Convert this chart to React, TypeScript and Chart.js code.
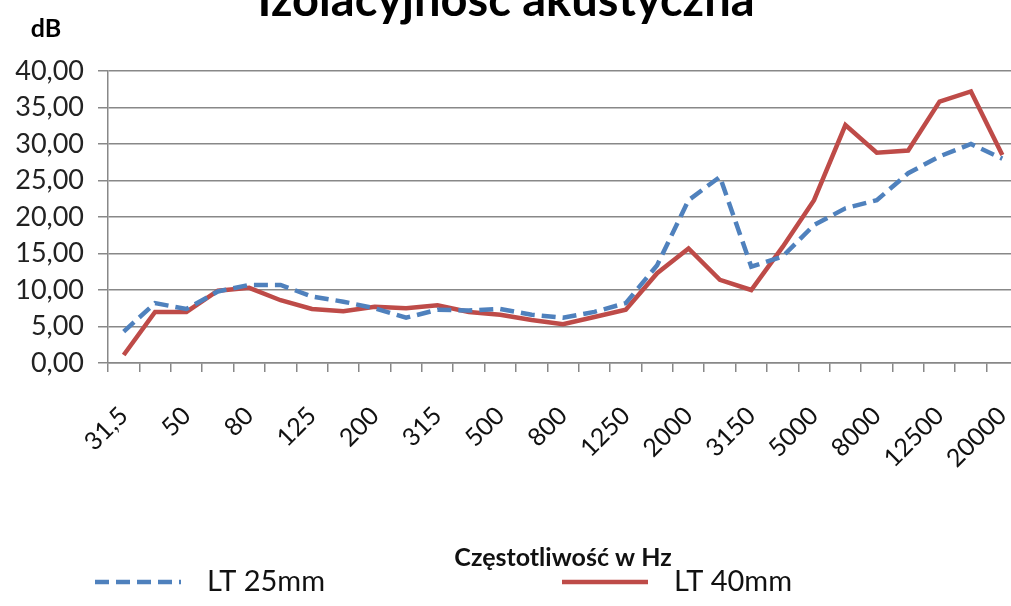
import React, { useEffect, useRef } from 'react';
import { Chart, registerables } from 'chart.js';

Chart.register(...registerables);

// ---- data ----
const frequencies = ['31,5', '40', '50', '63', '80', '100', '125', '160', '200', '250', '315', '400', '500', '630', '800', '1000', '1250', '1600', '2000', '2500', '3150', '4000', '5000', '6300', '8000', '10000', '12500', '16000', '20000'];
const lt25mm = [4.3, 8.2, 7.4, 9.8, 10.7, 10.7, 9.1, 8.4, 7.5, 6.2, 7.3, 7.2, 7.4, 6.6, 6.2, 7.0, 8.2, 13.4, 22.3, 25.5, 13.2, 14.6, 18.9, 21.2, 22.3, 26.0, 28.3, 30.0, 28.0];
const lt40mm = [1.1, 7.0, 7.0, 9.9, 10.3, 8.6, 7.4, 7.1, 7.7, 7.5, 7.9, 7.0, 6.6, 5.9, 5.3, 6.3, 7.3, 12.3, 15.7, 11.4, 10.0, 15.9, 22.3, 32.6, 28.8, 29.1, 35.8, 37.2, 28.5];
const seriesNames = ['LT 25mm', 'LT 40mm'];
const yMin = 0;
const yMax = 40;
const yStep = 5;
const chartTitle = 'Izolacyjność akustyczna';
const yUnit = 'dB';
const xTitle = 'Częstotliwość w Hz';

const FONT = 'Lato, "Open Sans", sans-serif';
const CANVAS_W = 1018;
const CANVAS_H = 606;

const decorPlugin = {
  id: 'decor',
  afterDraw(chart: any) {
    const ctx = chart.ctx;
    ctx.save();
    ctx.fillStyle = '#000';
    ctx.textAlign = 'center';
    ctx.textBaseline = 'alphabetic';
    ctx.font = `bold 47px ${FONT}`;
    ctx.fillText(chartTitle, 506, 16);
    ctx.font = `bold 25px ${FONT}`;
    ctx.fillText(yUnit, 46, 37);

    const xs = [95, 562];
    const y = 582;
    chart.data.datasets.forEach((ds: any, i: number) => {
      ctx.strokeStyle = ds.borderColor;
      ctx.lineWidth = ds.borderWidth;
      ctx.setLineDash(ds.borderDash || []);
      ctx.beginPath();
      ctx.moveTo(xs[i], y);
      ctx.lineTo(xs[i] + 86, y);
      ctx.stroke();
      ctx.setLineDash([]);
      ctx.font = `29px ${FONT}`;
      ctx.textAlign = 'left';
      ctx.textBaseline = 'middle';
      ctx.fillStyle = '#111';
      ctx.fillText(ds.label, xs[i] + 112, y);
    });
    ctx.restore();
  },
};

export default function App() {
  const ref = useRef<HTMLCanvasElement | null>(null);

  useEffect(() => {
    if (!ref.current) return;
    const chart = new Chart(ref.current, {
      type: 'line',
      data: {
        labels: frequencies,
        datasets: [
          {
            label: seriesNames[0],
            data: lt25mm,
            borderColor: '#4F81BD',
            backgroundColor: '#4F81BD',
            borderWidth: 4.5,
            borderDash: [14, 7],
            pointRadius: 0,
            tension: 0,
            fill: false,
          },
          {
            label: seriesNames[1],
            data: lt40mm,
            borderColor: '#BE4B48',
            backgroundColor: '#BE4B48',
            borderWidth: 4.5,
            pointRadius: 0,
            tension: 0,
            fill: false,
          },
        ],
      },
      options: {
        animation: false,
        responsive: false,
        layout: { padding: { top: 71, left: 0, right: 0, bottom: 0 } },
        plugins: {
          legend: { display: false },
          title: { display: false },
          tooltip: { enabled: false },
        },
        scales: {
          x: {
            type: 'category',
            offset: true,
            grid: { offset: true, drawOnChartArea: false, tickLength: 9, color: '#888', lineWidth: 1.5 },
            border: { color: '#888', width: 1.5 },
            ticks: {
              autoSkip: false,
              maxRotation: 45,
              minRotation: 45,
              padding: 29,
              color: '#111',
              font: { family: FONT, size: 25 },
              callback: (_v: any, i: number) => (i % 2 === 0 ? frequencies[i] : ''),
            },
            title: {
              display: true,
              text: xTitle,
              color: '#111',
              font: { family: FONT, size: 25, weight: 'bold' },
              padding: { top: 0, bottom: 33 },
            },
            afterFit: (s: any) => {
              s.height = 243;
              s.paddingLeft = 0;
              s.paddingRight = 0;
            },
          },
          y: {
            min: yMin,
            max: yMax,
            grid: { color: '#888', lineWidth: 1.5, tickLength: 10 },
            border: { color: '#888', width: 1.5 },
            ticks: {
              stepSize: yStep,
              padding: 14,
              color: '#222',
              font: { family: FONT, size: 27 },
              callback: (v: any) => Number(v).toFixed(2).replace('.', ','),
            },
            afterFit: (s: any) => {
              s.width = 108;
            },
          },
        },
      },
      plugins: [decorPlugin],
    });
    return () => chart.destroy();
  }, []);

  return (
    <div style={{ position: 'absolute', left: 0, top: 0, width: 1011, height: 606, overflow: 'hidden', background: '#fff' }}>
      <canvas ref={ref} width={CANVAS_W} height={CANVAS_H} style={{ display: 'block' }} />
    </div>
  );
}
